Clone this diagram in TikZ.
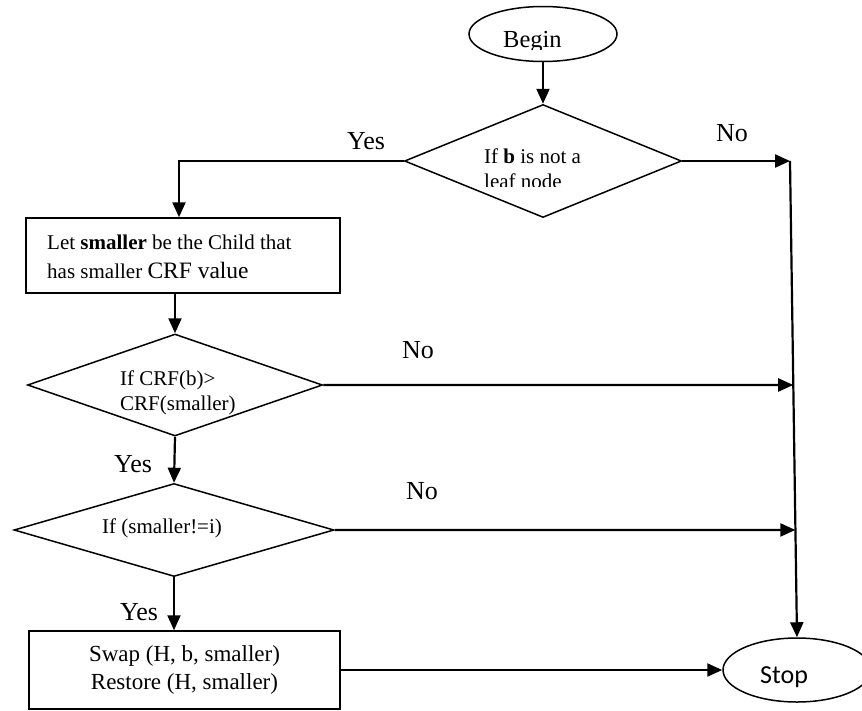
\documentclass[tikz,border=0pt]{standalone}
\usepackage{fontspec}
\setmainfont{Liberation Serif}
\newfontfamily\stopfont{Carlito}
\usetikzlibrary{shapes.geometric,arrows.meta,calc}

\begin{document}
\begin{tikzpicture}[x=1pt,y=-1pt,
  outline/.style={draw, line width=1.5pt, inner sep=0pt},
  terminal/.style={outline, ellipse},
  decision/.style={outline, diamond},
  process/.style={outline, rectangle},
  flow/.style={line width=2.2pt, -{Triangle[length=15pt,width=13pt]}},
  lbl/.style={font=\fontsize{26}{30}\selectfont, inner sep=0pt},
  body/.style={font=\fontsize{21}{25}\selectfont, inner sep=0pt, anchor=base west}
]
\useasboundingbox (0,0) rectangle (862,710);

% shapes
\node[terminal, minimum width=148pt, minimum height=55pt] (begin) at (543,34) {};
\node[decision, minimum width=277pt, minimum height=113pt] (d1) at (543,161) {};
\node[process, minimum width=314pt, minimum height=75pt] (box1) at (183,255.5) {};
\node[decision, minimum width=295pt, minimum height=102pt] (d2) at (175,385) {};
\node[decision, minimum width=320pt, minimum height=93pt] (d3) at (174,530) {};
\node[process, minimum width=311pt, minimum height=78pt, align=center,
      font=\fontsize{23}{28}\selectfont] (box2) at (184.5,670)
      {Swap (H, b, smaller)\\Restore (H, smaller)};
\node[terminal, minimum width=148pt, minimum height=64pt] (stop) at (797,670) {};

% texts inside the shapes (their text boxes cut the last line)
\begin{scope}
  \clip (460,0) rectangle (625,49);
  \node[lbl, anchor=base west, font=\fontsize{24.5}{28}\selectfont] (begintext) at (503,47) {Begin};
\end{scope}
\node[body] (d1line1) at (484,163) {If \textbf{b} is not a};
\begin{scope}
  \clip (470,170) rectangle (610,186.5);
  \node[body] (d1line2) at (484,188) {leaf node};
\end{scope}
\node[body] (box1line1) at (47,249) {Let \textbf{smaller} be the Child that};
\node[body] (box1line2) at (47,278) {has smaller {\fontsize{23.5}{28}\selectfont CRF value}};
\node[body] (d2line1) at (120,385) {If CRF(b)>};
\node[body] (d2line2) at (120,410) {CRF(smaller)};
\node[body] (d3line) at (102,533) {If (smaller!=i)};
\node[inner sep=0pt, anchor=base west, font=\stopfont\fontsize{26}{30}\selectfont] (stoptext) at (760,683) {Stop};

% branch labels
\node[lbl] (yes1) at (366,141) {Yes};
\node[lbl] (no1) at (732,133) {No};
\node[lbl] (no2) at (418,350) {No};
\node[lbl] (yes2) at (133,464) {Yes};
\node[lbl] (no3) at (422,491) {No};
\node[lbl] (yes3) at (139,612) {Yes};

% connectors; the right-hand trunk runs from t1 down to Stop
\coordinate (t1) at (790,161);
\coordinate (d2far) at ([xshift=100pt]d2.east);
\coordinate (d3far) at ([xshift=100pt]d3.east);
\draw[flow] (begin.south) -- (d1.north);
\draw[flow] (d1.west) -| ([xshift=-4pt]box1.north);
\draw[flow] (d1.east) -- (t1);
\draw[flow] (t1) -- (stop.north);
\draw[flow] (box1.south -| d2.north) -- (d2.north);
\draw[flow] (d2.east) -- (intersection of d2.east--d2far and t1--stop.north);
\draw[flow] (d2.south) -- (d3.north);
\draw[flow] (d3.east) -- (intersection of d3.east--d3far and t1--stop.north);
\draw[flow] (d3.south) -- (d3.south |- box2.north);
\draw[flow] (box2.east) -- (stop.west);
\end{tikzpicture}
\end{document}
